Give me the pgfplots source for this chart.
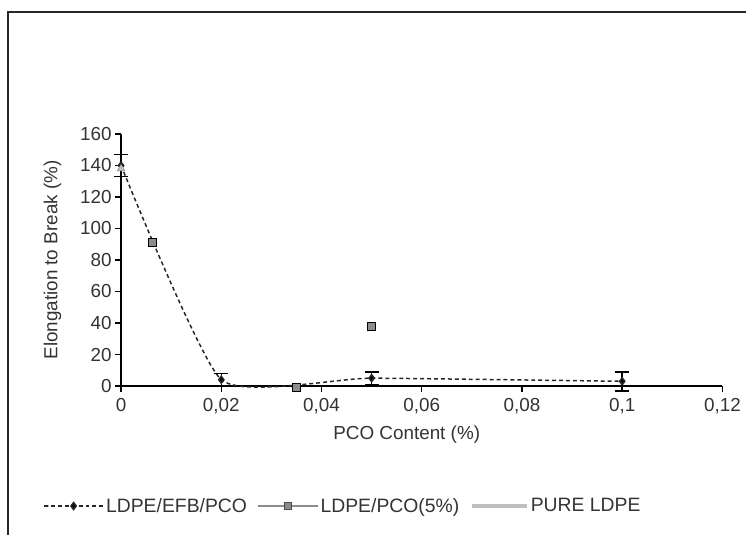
\documentclass[border=0pt]{standalone}
\usepackage{fontspec}
\setmainfont{Liberation Sans}
\usepackage{pgfplots}
\pgfplotsset{compat=1.18}

\definecolor{txt}{gray}{0.2}
\definecolor{pcogray}{gray}{0.55}
\definecolor{puregray}{gray}{0.75}

\begin{document}
\begin{tikzpicture}
\begin{axis}[
    scale only axis, width=606pt, height=254pt,
    xmin=0, xmax=0.12, ymin=0, ymax=160,
    xtick={0,0.02,0.04,0.06,0.08,0.1,0.12},
    xticklabels={0,{0,02},{0,04},{0,06},{0,08},{0,1},{0,12}},
    ytick={0,20,40,60,80,100,120,140,160},
    yticklabels={0,20,40,60,80,100,120,140,160},
    axis lines=left, axis line style={-, line width=1.8pt, black},
    tick style={line width=1.5pt, black}, tick align=outside,
    major tick length=6pt,
    ticklabel style={font=\fontsize{19}{22}\selectfont, text=txt},
    xticklabel style={yshift=-3pt},
    xlabel={PCO Content (\%)}, ylabel={Elongation to Break (\%)},
    label style={font=\fontsize{19}{22}\selectfont, text=txt},
    xlabel style={at={(axis description cs:0.475,-0.193)}, anchor=center},
    ylabel style={at={(axis description cs:-0.114,0.5)}, anchor=center},
    clip=false,
    legend style={at={(axis description cs:-0.130,-0.476)}, anchor=west,
        draw=none, fill=none, legend columns=3, inner sep=0pt,
        font=\fontsize{19.5}{22}\selectfont, text=txt,
        /tikz/every even column/.append style={column sep=9pt}},
    legend cell align=left,
    legend image code/.code={
        \draw[mark repeat=2, mark phase=2] plot coordinates {(0pt,0pt) (30pt,0pt) (60pt,0pt)};},
]
% LDPE/EFB/PCO
\addplot[black!85, dash pattern=on 4pt off 3pt, line width=1.5pt, smooth, tension=0.3,
    mark=diamond*, mark size=3.5pt, mark options={solid, fill=black},
    error bars/.cd, y dir=both, y explicit,
    error bar style={line width=1.6pt, black, solid},
    error mark options={rotate=90, mark size=7pt, line width=1.6pt, black}]
    coordinates {
    (0,140) +- (0,7)
    (0.02,4) +- (0,4)
    (0.05,5) +- (0,4)
    (0.1,3) +- (0,6)
};
\addlegendentry{LDPE/EFB/PCO}
% LDPE/PCO(5%)
\addplot[only marks, mark=square*, mark size=4pt,
    mark options={fill=pcogray, draw=black, line width=0.8pt}, forget plot]
    coordinates {(0.0063,91) (0.035,-1) (0.05,38)};
\addlegendimage{pcogray, line width=1.2pt, mark=square*, mark size=3.5pt,
    mark options={fill=pcogray, draw=black!70}}
\addlegendentry{LDPE/PCO(5\%)}
% PURE LDPE
\addplot[only marks, mark=triangle*, mark size=4.5pt,
    mark options={fill=puregray, draw=gray}, forget plot]
    coordinates {(0,138)};
\addlegendimage{legend image code/.code={
    \draw[puregray, line width=4pt] (0pt,0pt) -- (55pt,0pt);}}
\addlegendentry{PURE LDPE}
\end{axis}
\draw[line width=1.5pt, black!85] (-114pt,-150pt) -- (-114pt,377pt) -- (630pt,377pt);
\useasboundingbox (-122pt,-142pt) rectangle (625pt,389pt);
\end{tikzpicture}
\end{document}
